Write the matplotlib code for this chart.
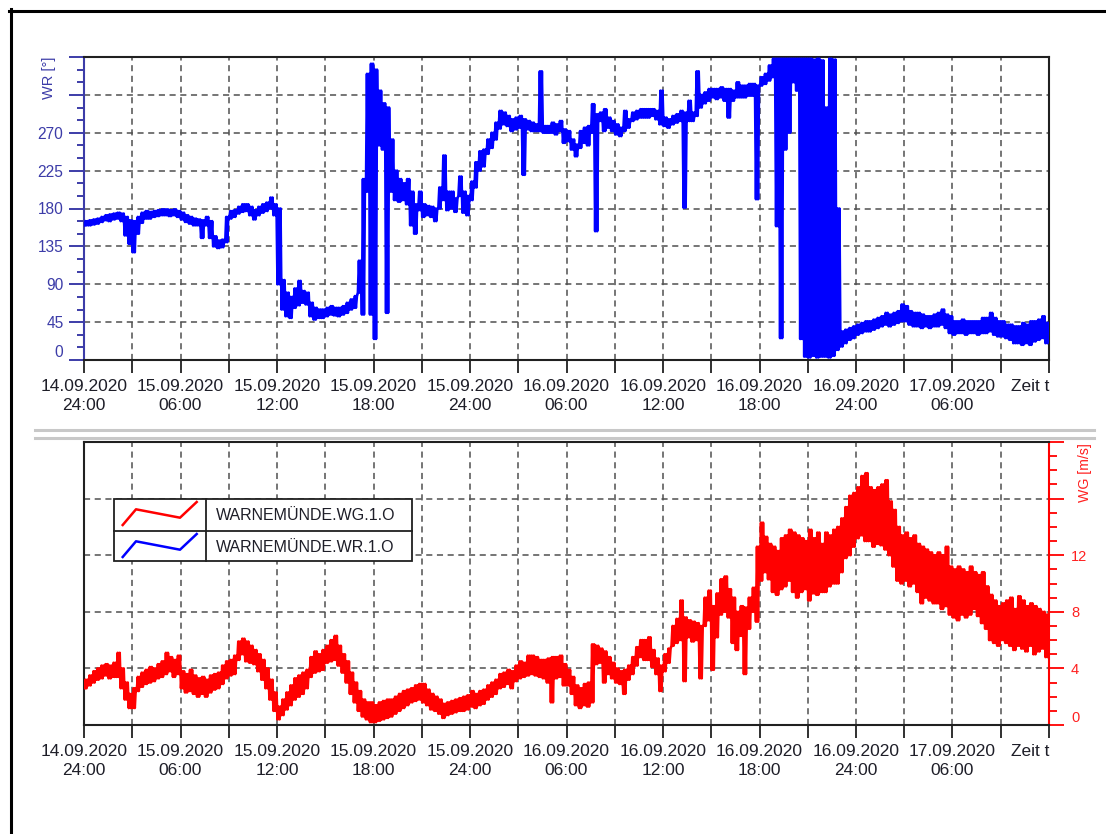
import numpy as np
import matplotlib
matplotlib.use('Agg')
import matplotlib.pyplot as plt
from matplotlib.lines import Line2D
from matplotlib.patches import Rectangle

plt.rcParams['font.family'] = ['Liberation Sans', 'DejaVu Sans']

# time axis: hours after 15.09.2020 00:00, one lo/hi pair per quarter hour
hour_ticks = [0, 6, 12, 18, 24, 30, 36, 42, 48, 54, 60]
hour_labels = ['14.09.2020\n24:00', '15.09.2020\n06:00', '15.09.2020\n12:00',
               '15.09.2020\n18:00', '15.09.2020\n24:00', '16.09.2020\n06:00',
               '16.09.2020\n12:00', '16.09.2020\n18:00', '16.09.2020\n24:00',
               '17.09.2020\n06:00', 'Zeit t']

# wind direction WR [deg], band per quarter hour
wr_lo = [160, 160, 161, 162, 164, 166, 165, 167, 168, 165, 148, 138,
         128, 150, 163, 168, 168, 170, 171, 172, 172, 171, 172, 170,
         167, 164, 162, 160, 160, 145, 160, 145, 135, 133, 134, 140,
         168, 170, 174, 176, 177, 172, 167, 172, 175, 177, 180, 172,
         90, 60, 52, 50, 62, 65, 68, 66, 52, 48, 50, 50,
         52, 54, 53, 52, 54, 56, 60, 62, 80, 54, 200, 54,
         25, 255, 250, 56, 200, 190, 188, 190, 185, 160, 150, 178,
         170, 172, 170, 165, 180, 190, 178, 180, 176, 195, 175, 172,
         190, 205, 225, 230, 245, 252, 262, 275, 280, 278, 272, 274,
         276, 220, 274, 272, 272, 272, 270, 270, 270, 268, 272, 258,
         260, 250, 242, 252, 258, 255, 270, 153, 284, 272, 276, 272,
         268, 266, 272, 276, 284, 286, 288, 288, 288, 290, 286, 280,
         278, 276, 280, 282, 284, 181, 284, 284, 290, 300, 305, 308,
         312, 310, 312, 308, 288, 308, 312, 312, 312, 314, 314, 191,
         326, 328, 332, 336, 159, 26, 250, 270, 330, 320, 25, 4,
         3, 5, 3, 4, 4, 3, 5, 12, 16, 20, 24, 26,
         30, 32, 34, 34, 36, 38, 40, 42, 40, 42, 44, 46,
         46, 42, 40, 40, 38, 40, 38, 40, 40, 42, 38, 32,
         30, 32, 32, 30, 32, 32, 30, 32, 32, 34, 30, 28,
         28, 26, 24, 20, 20, 18, 20, 18, 22, 24, 26, 20]
wr_hi = [165, 166, 167, 168, 170, 172, 173, 174, 175, 174, 170, 166,
         165, 170, 175, 177, 176, 177, 178, 179, 179, 178, 179, 177,
         175, 172, 170, 168, 167, 166, 170, 165, 147, 142, 143, 170,
         177, 178, 182, 185, 185, 182, 178, 182, 185, 187, 193, 185,
         180, 95, 80, 75, 85, 94, 82, 80, 68, 62, 60, 60,
         62, 64, 62, 62, 64, 68, 72, 76, 118, 215, 340, 352,
         345, 320, 305, 300, 262, 225, 215, 210, 215, 200, 185, 200,
         185, 183, 182, 180, 205, 243, 200, 200, 192, 218, 200, 195,
         212, 235, 248, 250, 262, 270, 282, 296, 294, 290, 286, 288,
         290, 286, 284, 282, 280, 343, 278, 278, 282, 280, 284, 274,
         272, 262, 256, 272, 276, 278, 304, 292, 294, 298, 288, 284,
         280, 276, 296, 286, 294, 296, 298, 298, 298, 298, 296, 320,
         288, 286, 290, 292, 296, 294, 308, 294, 343, 315, 318, 322,
         322, 322, 324, 322, 322, 320, 330, 326, 326, 328, 328, 326,
         336, 340, 350, 358, 358, 358, 358, 358, 358, 358, 358, 358,
         358, 357, 358, 356, 300, 358, 357, 180, 34, 36, 38, 40,
         42, 44, 46, 46, 48, 50, 52, 56, 54, 56, 58, 66,
         64, 58, 56, 56, 54, 52, 52, 54, 56, 60, 54, 52,
         46, 46, 48, 46, 46, 46, 46, 50, 50, 56, 50, 46,
         46, 42, 42, 40, 40, 44, 42, 46, 46, 48, 52, 44]

# wind speed WG [m/s], band per quarter hour
wg_lo = [2.6, 2.8, 3.0, 3.2, 3.3, 3.5, 3.3, 3.4, 3.4, 2.6, 1.8, 1.2,
         1.2, 2.4, 2.7, 2.9, 3.0, 3.1, 3.3, 3.4, 3.6, 3.8, 3.4, 3.6,
         2.6, 2.3, 2.4, 2.2, 2.0, 2.2, 2.0, 2.3, 2.5, 2.6, 2.9, 3.3,
         3.5, 3.6, 4.6, 5.0, 4.5, 4.4, 4.3, 3.8, 3.2, 2.6, 1.8, 1.0,
         0.4, 0.7, 1.1, 1.4, 1.8, 2.0, 2.2, 2.6, 3.4, 3.7, 3.8, 3.9,
         4.4, 4.5, 4.6, 4.2, 3.7, 3.0, 2.2, 1.6, 1.0, 0.6, 0.4, 0.2,
         0.2, 0.3, 0.4, 0.5, 0.6, 0.8, 1.0, 1.2, 1.4, 1.6, 1.7, 1.8,
         1.6, 1.4, 1.1, 1.0, 0.8, 0.5, 0.7, 0.8, 0.9, 1.0, 1.0, 1.1,
         1.3, 1.2, 1.4, 1.5, 1.8, 2.0, 2.2, 2.6, 2.7, 2.9, 2.6, 3.1,
         3.3, 3.4, 3.5, 3.6, 3.5, 3.4, 3.3, 3.0, 1.6, 3.3, 3.4, 2.8,
         2.8, 2.2, 1.4, 1.2, 1.4, 1.3, 1.6, 4.3, 4.4, 3.0, 3.6, 3.3,
         3.0, 2.9, 2.2, 3.2, 3.6, 4.2, 4.8, 4.6, 4.6, 4.1, 3.6, 2.4,
         3.8, 4.4, 5.6, 5.8, 6.0, 3.1, 6.2, 5.9, 6.0, 3.3, 7.0, 7.4,
         3.9, 6.2, 7.8, 8.0, 7.6, 5.8, 5.3, 6.3, 3.6, 6.8, 8.0, 7.3,
         10.2, 10.8, 10.3, 9.4, 9.2, 9.6, 9.8, 10.2, 9.4, 9.0, 9.4, 9.6,
         8.8, 9.3, 9.2, 9.4, 9.4, 9.8, 10.0, 10.0, 10.8, 11.8, 12.0, 12.6,
         13.2, 13.4, 13.0, 13.0, 12.6, 12.8, 12.7, 12.4, 12.0, 11.2, 10.2, 10.0,
         10.2, 9.8, 10.0, 9.4, 8.6, 9.0, 8.8, 8.6, 8.6, 8.2, 8.4, 7.8,
         7.6, 7.4, 7.8, 7.6, 7.8, 8.2, 7.7, 7.2, 6.8, 6.0, 5.8, 5.6,
         6.0, 5.8, 5.6, 5.3, 5.6, 5.4, 5.2, 5.6, 5.0, 5.2, 5.4, 4.8]
wg_hi = [3.2, 3.5, 3.8, 4.0, 4.2, 4.3, 4.2, 4.4, 5.1, 4.0, 3.0, 2.2,
         2.6, 3.4, 3.7, 3.9, 4.1, 4.0, 4.3, 4.5, 5.1, 4.8, 4.6, 4.9,
         3.8, 3.6, 3.9, 3.5, 3.3, 3.4, 3.2, 3.5, 3.6, 3.7, 4.2, 4.5,
         4.6, 4.9, 5.9, 6.1, 5.9, 5.6, 5.3, 5.0, 4.6, 4.0, 3.2, 2.3,
         1.3, 1.8, 2.3, 2.8, 3.3, 3.5, 3.7, 3.9, 4.8, 5.2, 5.0, 5.3,
         5.6, 6.0, 6.3, 5.6, 5.0, 4.5, 3.7, 3.0, 2.4, 1.8, 1.6, 1.6,
         1.4, 1.6, 1.7, 1.8, 1.8, 2.0, 2.2, 2.4, 2.5, 2.6, 2.8, 2.9,
         2.9, 2.5, 2.2, 2.0, 1.8, 1.5, 1.6, 1.7, 1.8, 1.9, 2.0, 2.1,
         2.4, 2.2, 2.4, 2.5, 2.8, 3.0, 3.2, 3.6, 3.7, 3.9, 3.8, 4.2,
         4.5, 4.4, 4.9, 4.9, 4.8, 4.6, 4.6, 4.7, 4.8, 4.8, 4.9, 4.3,
         3.9, 3.4, 2.8, 2.6, 2.9, 3.0, 5.7, 5.6, 5.4, 5.2, 4.8, 4.4,
         4.0, 3.8, 3.9, 4.2, 4.8, 5.5, 6.0, 6.0, 6.2, 5.3, 4.7, 4.2,
         5.0, 5.4, 7.0, 7.5, 8.8, 7.6, 7.4, 7.3, 7.2, 7.0, 9.0, 9.5,
         8.4, 9.3, 10.3, 10.5, 9.6, 9.0, 8.0, 8.4, 8.3, 9.0, 9.7, 12.6,
         14.3, 13.3, 12.8, 12.6, 12.3, 13.2, 13.4, 13.8, 13.6, 13.4, 13.2, 13.0,
         13.8, 13.2, 13.6, 12.8, 13.6, 13.4, 13.8, 14.0, 14.6, 15.4, 16.2, 16.4,
         16.8, 17.6, 17.8, 16.8, 16.6, 16.8, 17.0, 17.3, 15.8, 15.2, 14.0, 13.4,
         13.6, 13.2, 13.4, 12.8, 12.6, 12.4, 12.2, 12.0, 12.2, 12.0, 12.6, 11.2,
         11.0, 11.2, 11.0, 10.8, 11.2, 10.8, 10.6, 10.8, 9.8, 9.2, 8.8, 8.4,
         8.6, 8.8, 9.0, 8.2, 9.1, 8.8, 8.4, 8.6, 8.4, 8.2, 8.0, 7.8]

legend_names = ['WARNEMÜNDE.WG.1.O', 'WARNEMÜNDE.WR.1.O']

W, H = 1106, 834
fig = plt.figure(figsize=(W / 100, H / 100), dpi=100)


def fx(x):
    return x / W


def fy(y):
    return 1 - y / H


def zigzag(lo, hi):
    # two lo/hi swings inside each quarter hour so the band reads as dense noise
    t = np.arange(len(lo)) * 0.25
    offs = np.array([0.5, 1.5, 2.5, 3.5]) / 16
    xs = (t[:, None] + offs[None, :]).ravel()
    ys = np.column_stack([lo, hi, lo, hi]).ravel()
    return xs, ys


grid_kw = dict(color='#505050', lw=1.1, ls=(0, (4, 3)))
navy = '#3c3ca8'
dark = '#1e1e28'

ax1 = fig.add_axes([fx(84), fy(360), fx(1049 - 84), (360 - 57) / H])
ax2 = fig.add_axes([fx(84), fy(725), fx(1049 - 84), (725 - 442) / H])

for ax in (ax1, ax2):
    ax.set_xlim(0, 60)
    ax.set_xticks(hour_ticks)
    ax.set_xticks(np.arange(3, 60, 6), minor=True)
    ax.set_xticklabels(hour_labels, fontsize=12.5, linespacing=1.3, color=dark)
    ax.get_xticklabels()[-1].set_ha('right')
    ax.tick_params(axis='x', which='both', direction='out', length=9.4,
                   width=1.4, color='#303030', pad=4.5)
    ax.grid(axis='x', which='both', **grid_kw)
    ax.grid(axis='y', which='major', **grid_kw)
    ax.set_axisbelow(True)
    for s in ax.spines.values():
        s.set_linewidth(1.5)
        s.set_color('#202020')

# top: wind direction
xs, ys = zigzag(wr_lo, wr_hi)
ax1.plot(xs, ys, color='#0000ff', lw=1.9, zorder=3)
ax1.set_ylim(0, 360)
ax1.set_yticks(np.arange(0, 361, 45))
ax1.set_yticks(np.arange(0, 361, 15), minor=True)
ax1.set_yticklabels(['0', '45', '90', '135', '180', '225', '270', '', ''],
                    fontsize=11.2, color=navy)
ax1.get_yticklabels()[0].set_va('bottom')
ax1.tick_params(axis='y', which='major', length=10.8, width=1.4, color=navy, pad=4)
ax1.tick_params(axis='y', which='minor', length=5, width=1.4, color=navy)
ax1.spines['left'].set_color(navy)
fig.text(fx(49), fy(57), 'WR [°]', rotation=90, ha='center', va='top',
         fontsize=10.5, color=navy)

# bottom: wind speed
xs, ys = zigzag(wg_lo, wg_hi)
ax2.plot(xs, ys, color='#ff0000', lw=1.9, zorder=3)
ax2.set_ylim(0, 20)
ax2.yaxis.tick_right()
ax2.set_yticks(np.arange(0, 21, 4))
ax2.set_yticks(np.arange(0, 21, 1), minor=True)
ax2.set_yticklabels(['0', '4', '8', '12', '', ''], fontsize=10.5, color='#ff2020')
ax2.get_yticklabels()[0].set_va('bottom')
ax2.tick_params(axis='y', which='major', length=10.8, width=1.3, color='#ff0000', pad=5)
ax2.tick_params(axis='y', which='minor', length=5.8, width=1.3, color='#ff0000')
ax2.spines['right'].set_color('#ff0000')
fig.text(fx(1085), fy(443), 'WG [m/s]', rotation=90, ha='center', va='top',
         fontsize=10.2, color='#ff2020')

# legend box
fig.add_artist(Rectangle((fx(114), fy(561)), fx(412 - 114), (561 - 499) / H,
                         facecolor='white', edgecolor='#202020', lw=1.3, zorder=5))
fig.add_artist(Line2D([fx(206)] * 2, [fy(499), fy(561)], color='#202020', lw=1.3, zorder=6))
fig.add_artist(Line2D([fx(114), fx(412)], [fy(531)] * 2, color='#202020', lw=1.3, zorder=6))
sample_x = [122.7, 136, 180, 196.7]
sample_y = [16.5, 0.8, 9.2, -6.5]
for row, (name, col) in enumerate(zip(legend_names, ['#ff0000', '#0000ff'])):
    y0 = 508.5 + row * 32
    fig.add_artist(Line2D([fx(v) for v in sample_x], [fy(y0 + d) for d in sample_y],
                          color=col, lw=1.8, zorder=6))
    fig.text(fx(216), fy(516 + row * 31), name, ha='left', va='center',
             fontsize=11.5, color=dark, zorder=6)

# panel separator and outer frame
for ysep in (430, 438):
    fig.add_artist(Line2D([fx(35), fx(1094)], [fy(ysep)] * 2, color='#c8c8c8', lw=2.2))
fig.add_artist(Line2D([fx(9), 1], [fy(10.5)] * 2, color='black', lw=2.2))
fig.add_artist(Line2D([fx(10.5)] * 2, [fy(9), 0], color='black', lw=2.2))

fig.savefig('out.png', dpi=100)
